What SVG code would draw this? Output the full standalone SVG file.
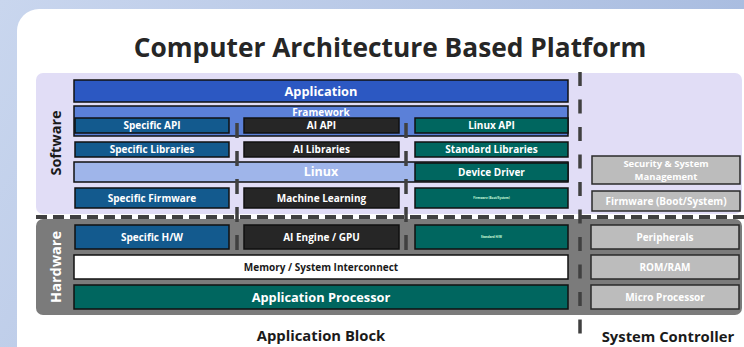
<svg xmlns="http://www.w3.org/2000/svg" width="744" height="347" viewBox="0 0 744 347">
<defs>
<linearGradient id="bg" x1="0" y1="0" x2="1" y2="0.3">
<stop offset="0" stop-color="#c9d6ee"/>
<stop offset="1" stop-color="#a7bbdf"/>
</linearGradient>
<style>
.b{stroke:#111;stroke-width:1.5}
.tw{fill:#fff;font-family:"Open Sans","DejaVu Sans",sans-serif;font-weight:bold;text-anchor:middle}
.tk{fill:#1a1a1a;font-family:"Open Sans","DejaVu Sans",sans-serif;font-weight:bold;text-anchor:middle}
.s{font-size:10px}
.blue{fill:#135a8e}
.dark{fill:#262626}
.teal{fill:#00665f}
.grey{fill:#bcbcbc;stroke:#2a2a2a;stroke-width:1.5}
.dash{stroke:#404040;fill:none}
</style>
</defs>
<rect x="0" y="0" width="744" height="347" fill="url(#bg)"/>
<rect x="17" y="9" width="760" height="380" rx="22" fill="#fff"/>
<text x="390" y="57" class="tk" style="font-size:26.3px;fill:#262626">Computer Architecture Based Platform</text>

<g id="software-panel">
<rect x="36" y="73" width="706" height="141" rx="7" fill="#e1ddf6"/>
<text transform="translate(61,143) rotate(-90)" class="tk" style="font-size:14.5px">Software</text>
</g>
<g id="hardware-panel">
<rect x="36" y="219" width="706" height="96" rx="7" fill="#7b7b7b"/>
<text transform="translate(61,267) rotate(-90)" class="tw" style="font-size:14.5px">Hardware</text>
</g>

<g id="application"><rect x="74" y="80" width="494" height="22" fill="#2c58c2" class="b"/><text x="321" y="96" class="tw" style="font-size:12.8px">Application</text></g>
<g id="framework"><rect x="74" y="106" width="494" height="30" fill="#5b80d8" class="b"/><text x="321" y="116.3" class="tw" style="font-size:10px">Framework</text></g>
<g id="specific-api"><rect x="75" y="118" width="154" height="15" class="b blue"/><text x="152" y="129" class="tw s">Specific API</text></g>
<g id="ai-api"><rect x="244" y="118" width="155" height="15" class="b dark"/><text x="321.5" y="129" class="tw s">AI API</text></g>
<g id="linux-api"><rect x="415" y="118" width="153" height="15" class="b teal"/><text x="491.5" y="129" class="tw s">Linux API</text></g>

<g id="specific-libraries"><rect x="75" y="142" width="154" height="15" class="b blue"/><text x="152" y="153" class="tw s">Specific Libraries</text></g>
<g id="ai-libraries"><rect x="244" y="142" width="155" height="15" class="b dark"/><text x="321.5" y="153" class="tw s">AI Libraries</text></g>
<g id="standard-libraries"><rect x="415" y="142" width="153" height="15" class="b teal"/><text x="491.5" y="153" class="tw s">Standard Libraries</text></g>

<g id="linux"><rect x="74" y="162" width="494" height="20" fill="#9fb5ea" class="b"/><text x="321" y="176.2" class="tw" style="font-size:12.5px">Linux</text></g>
<g id="device-driver"><rect x="415" y="163" width="153" height="18" class="b teal"/><text x="491.5" y="175.5" class="tw s">Device Driver</text></g>

<g id="specific-firmware"><rect x="75" y="188" width="154" height="20" class="b blue"/><text x="152" y="201.5" class="tw s">Specific Firmware</text></g>
<g id="machine-learning"><rect x="244" y="188" width="155" height="20" class="b dark"/><text x="321.5" y="201.5" class="tw s">Machine Learning</text></g>
<g id="firmware-teal"><rect x="415" y="188" width="153" height="20" class="b teal"/><text x="491.5" y="199" class="tw" style="font-size:3px;fill:#cfd">Firmware (Boot/System)</text></g>

<g id="specific-hw"><rect x="75" y="225" width="154" height="24" class="b blue"/><text x="152" y="240.5" class="tw s">Specific H/W</text></g>
<g id="ai-engine"><rect x="244" y="225" width="155" height="24" class="b dark"/><text x="321.5" y="240.5" class="tw s">AI Engine / GPU</text></g>
<g id="standard-hw"><rect x="415" y="225" width="153" height="24" class="b teal"/><text x="491.5" y="238" class="tw" style="font-size:3px;fill:#cfd">Standard H/W</text></g>

<g id="memory"><rect x="74" y="255" width="494" height="24" fill="#fff" class="b"/><text x="321" y="270.5" class="tk s">Memory / System Interconnect</text></g>
<g id="application-processor"><rect x="74" y="285" width="494" height="24" class="b teal"/><text x="321" y="301.5" class="tw" style="font-size:12.8px">Application Processor</text></g>

<g id="security"><rect x="592" y="156" width="148" height="28" class="grey"/><text x="666" y="167.2" class="tw" style="font-size:9.5px">Security &amp; System</text><text x="666" y="179.6" class="tw" style="font-size:9.5px">Management</text></g>
<g id="firmware-boot"><rect x="592" y="191" width="148" height="20" class="grey"/><text x="666" y="204.5" class="tw s">Firmware (Boot/System)</text></g>
<g id="peripherals"><rect x="591" y="225" width="148" height="24" class="grey"/><text x="665" y="240.5" class="tw s">Peripherals</text></g>
<g id="rom-ram"><rect x="591" y="255" width="148" height="24" class="grey"/><text x="665" y="270.5" class="tw s">ROM/RAM</text></g>
<g id="micro-processor"><rect x="591" y="285" width="148" height="24" class="grey"/><text x="665" y="300.5" class="tw s">Micro Processor</text></g>

<g id="connectors">
<line x1="36" y1="217" x2="744" y2="217" stroke="#fff" stroke-width="4"/>
<line x1="36" y1="217" x2="744" y2="217" class="dash" stroke-width="4" stroke-dasharray="11 6"/>
<line x1="237" y1="123" x2="237" y2="250" class="dash" stroke-width="3.5" stroke-dasharray="15 13"/>
<line x1="406" y1="123" x2="406" y2="250" class="dash" stroke-width="3.5" stroke-dasharray="15 13"/>
<line x1="580" y1="72" x2="580" y2="338" class="dash" stroke-width="3.5" stroke-dasharray="14 13.5"/>
</g>

<text x="321" y="341" class="tk" style="font-size:14.8px">Application Block</text>
<text x="668" y="342" class="tk" style="font-size:14.8px">System Controller</text>
</svg>
